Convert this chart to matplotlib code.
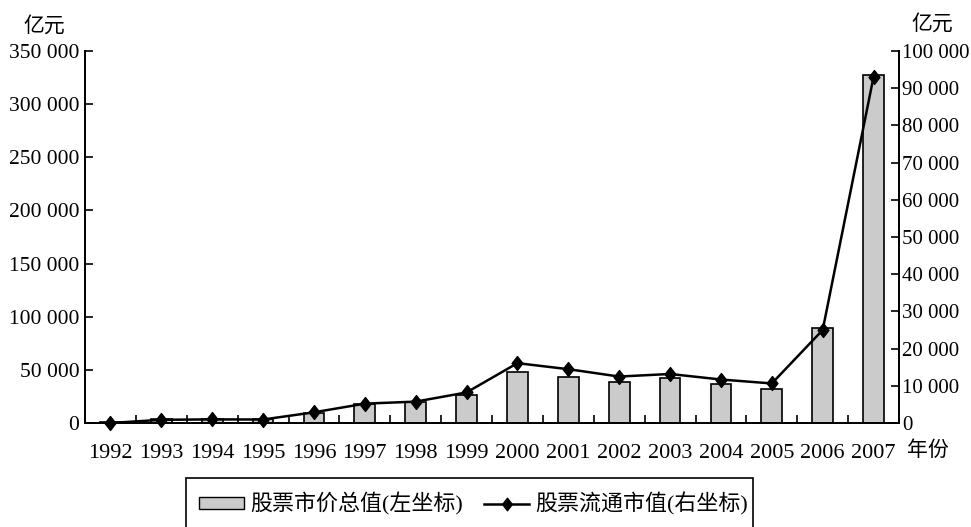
import matplotlib
matplotlib.use("Agg")
import matplotlib.pyplot as plt
from matplotlib.patches import Patch, Rectangle
from matplotlib.lines import Line2D
from matplotlib.path import Path
from matplotlib.ticker import FuncFormatter, FixedLocator

plt.rcParams['font.family'] = ['Liberation Serif', 'Noto Sans CJK SC', 'DejaVu Sans']

# Stock market data, 亿元
years = ['1992', '1993', '1994', '1995', '1996', '1997', '1998', '1999',
         '2000', '2001', '2002', '2003', '2004', '2005', '2006', '2007']
total_cap = [1048, 3531, 3691, 3474, 9842, 17529, 19506, 26471,
             48091, 43522, 38329, 42458, 37056, 32430, 89404, 327141]
float_cap = [0, 862, 969, 938, 2867, 5204, 5746, 8214,
             16088, 14463, 12485, 13179, 11689, 10631, 25004, 93064]
left_ticks = [0, 50000, 100000, 150000, 200000, 250000, 300000, 350000]
right_ticks = [0, 10000, 20000, 30000, 40000, 50000, 60000, 70000, 80000, 90000, 100000]

BAR_COLOR = '#cbcbcb'
# slightly tall diamond marker
diamond = Path([(0, 1), (0.78, 0), (0, -1), (-0.78, 0), (0, 1)],
               [Path.MOVETO, Path.LINETO, Path.LINETO, Path.LINETO, Path.CLOSEPOLY])

W, H = 971, 527
fig = plt.figure(figsize=(W / 100, H / 100), dpi=100)
ax = fig.add_axes([85 / W, 1 - 423 / H, (899 - 85) / W, (423 - 51) / H])
ax2 = ax.twinx()

x = list(range(len(years)))
ax.bar(x, total_cap, width=0.41, color=BAR_COLOR, edgecolor='black', linewidth=1.2, zorder=2)
ax2.plot(x, float_cap, color='black', linewidth=1.8, marker=diamond, markersize=10,
         clip_on=False, zorder=3)

ax.set_xlim(-0.5, len(years) - 0.5)
ax.set_ylim(0, 350000)
ax2.set_ylim(0, 100000)

fmt = FuncFormatter(lambda v, p: f"{int(v):,}".replace(',', ' '))
ax.yaxis.set_major_locator(FixedLocator(left_ticks))
ax2.yaxis.set_major_locator(FixedLocator(right_ticks))
ax.yaxis.set_major_formatter(fmt)
ax2.yaxis.set_major_formatter(fmt)

ax.set_xticks(x)
ax.set_xticklabels(years)
ax.set_xticks([i + 0.5 for i in x[:-1]], minor=True)
ax.tick_params(axis='x', which='major', length=0, pad=15, labelsize=16)
ax.tick_params(axis='x', which='minor', length=6, direction='in', width=1.2)
ax.tick_params(axis='y', direction='in', length=6, width=1.2, labelsize=15.5, pad=4)
ax2.tick_params(axis='y', direction='in', length=6, width=1.2, labelsize=15, pad=2)

for a in (ax, ax2):
    a.spines['top'].set_visible(False)
    for s in ('left', 'right', 'bottom'):
        a.spines[s].set_linewidth(1.3)

fig.text(23 / W, 1 - 26 / H, '亿元', fontsize=15, va='center', ha='left',
         family=['Noto Sans CJK SC'])
fig.text(953 / W, 1 - 24 / H, '亿元', fontsize=15, va='center', ha='right',
         family=['Noto Sans CJK SC'])
fig.text(907 / W, 1 - 450 / H, '年份', fontsize=15, va='center', ha='left',
         family=['Noto Sans CJK SC'])

handles = [
    Patch(facecolor=BAR_COLOR, edgecolor='black', linewidth=1.0),
    Line2D([], [], color='black', linewidth=1.8, marker=diamond, markersize=9),
]
labels = ['股票市价总值(左坐标)', '股票流通市值(右坐标)']
fig.legend(handles, labels, loc='center left', bbox_to_anchor=(199 / W, 1 - 504 / H),
           ncol=2, frameon=False, fontsize=15.8, handlelength=2.05, borderpad=0,
           borderaxespad=0, handletextpad=0.3, columnspacing=0.95, handleheight=0.5)
fig.patches.append(Rectangle((186 / W, -0.05), (753 - 186) / W, 0.05 + (527 - 478) / H,
                             transform=fig.transFigure, fill=False,
                             edgecolor='black', linewidth=1.2))

fig.savefig('out.png', dpi=100)
